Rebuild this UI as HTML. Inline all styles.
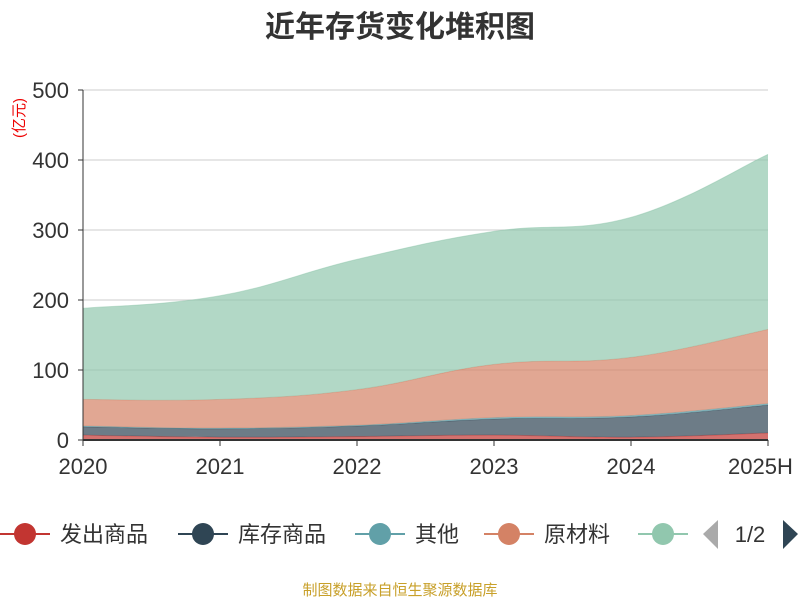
<!DOCTYPE html>
<html><head><meta charset="utf-8"><style>
body{margin:0;background:#fff;font-family:"Liberation Sans","Noto Sans CJK SC",sans-serif}
</style></head><body>
<svg id="c" width="800" height="600" xmlns="http://www.w3.org/2000/svg">
<text x="400" y="37" text-anchor="middle" font-size="30" font-weight="bold" fill="#333" font-family="Liberation Sans,Noto Sans CJK SC,sans-serif">近年存货变化堆积图</text>
<text transform="translate(24,118) rotate(-90)" text-anchor="middle" font-size="15" fill="#e00" font-family="Liberation Sans,Noto Sans CJK SC,sans-serif">(亿元)</text>
<g id="grid"></g><g id="areas"></g><g id="axes"></g><g id="legend"></g>
<text x="400" y="595" text-anchor="middle" font-size="15" fill="#c8a02a" font-family="Liberation Sans,Noto Sans CJK SC,sans-serif">制图数据来自恒生聚源数据库</text>
</svg>
<script>
const categories=["2020","2021","2022","2023","2024","2025H"];
const seriesNames=["发出商品","库存商品","其他","原材料","在产品"];
const s1=[7,4,5,7,4,10];
const s2=[12,12,15,23,29,40];
const s3=[1,1,1,2,2,2];
const s4=[38,41,51,76,83,106];
const s5=[130,148,186,190,200,250];
const yTicks=[0,100,200,300,400,500];
const colors=["#c23531","#2f4554","#61a0a8","#d48265","#91c7ae"];
const NS="http://www.w3.org/2000/svg";
const x0=83,x1=768,yb=440,yt=90,ymax=500;
const X=i=>x0+(x1-x0)*i/(categories.length-1);
const Y=v=>yb-(yb-yt)*v/ymax;
function mk(t,a,p){const e=document.createElementNS(NS,t);for(const k in a)e.setAttribute(k,a[k]);p.appendChild(e);return e;}
const F="Liberation Sans,Noto Sans CJK SC,sans-serif";
const grid=document.getElementById('grid'),axes=document.getElementById('axes'),areas=document.getElementById('areas'),leg=document.getElementById('legend');
yTicks.forEach(t=>{
 if(t>0){const l=mk('line',{x1:x0,x2:x1,y1:Y(t),y2:Y(t),stroke:'#ccc','stroke-width':1},grid);
 }
 const tx=mk('text',{x:x0-14,y:Y(t)+8,'text-anchor':'end','font-size':22,fill:'#333','font-family':F},axes);tx.textContent=t;
 
 const tk=mk('line',{x1:x0-5,x2:x0,y1:Y(t),y2:Y(t),stroke:'#333'},axes);
 
});
const series=[s1,s2,s3,s4,s5];
let base=categories.map(()=>0);
function smooth(pts){let d='';for(let i=0;i<pts.length;i++){const p=pts[i];if(i===0){d+='L'+p[0]+','+p[1];continue;}
 const a=pts[i-1],b=p,pm=pts[i-2]||a,pn=pts[i+1]||b,s=0.2;
 const c1=[a[0]+(b[0]-pm[0])*s,a[1]+(b[1]-pm[1])*s],c2=[b[0]-(pn[0]-a[0])*s,b[1]-(pn[1]-a[1])*s];
 d+='C'+c1+' '+c2+' '+b;}return d;}
series.forEach((s,k)=>{
 const top=s.map((v,i)=>base[i]+v);
 const tp=top.map((v,i)=>[X(i),Y(v)]),bp=base.map((v,i)=>[X(i),Y(v)]).reverse();
 const d='M'+tp[0]+smooth(tp).slice(1).replace(/^[^C]*/,'')+'L'+bp[0]+smooth(bp).replace(/^L[^C]*/,'')+'Z';
 const p=mk('path',{d:d,fill:colors[k],'fill-opacity':0.7},areas);
 
 const l=mk('path',{d:'M'+tp[0]+smooth(tp).replace(/^L[^C]*/,''),fill:'none',stroke:colors[k],'stroke-width':1,'stroke-opacity':0.5},areas);
 
 base=top;
});
const ax=mk('line',{x1:x0,x2:x1,y1:yb,y2:yb,stroke:'#333','stroke-width':2},axes);

const ay=mk('line',{x1:x0,x2:x0,y1:yt,y2:yb,stroke:'#333','stroke-width':1},axes);

categories.forEach((c,i)=>{
 const tk=mk('line',{x1:X(i),x2:X(i),y1:yb,y2:yb+6,stroke:'#333'},axes);
 
 const t=mk('text',{x:i===categories.length-1?X(i)-40:X(i),y:yb+34,'text-anchor':i===categories.length-1?'start':'middle','font-size':22,fill:'#333','font-family':F},axes);t.textContent=c;
 
});
const lx=[0,178,355,484,638];
seriesNames.slice(0,5).forEach((n,k)=>{
 const g=mk('g',{},leg);
 mk('line',{x1:lx[k],x2:lx[k]+50,y1:534,y2:534,stroke:colors[k],'stroke-width':2},g);
 mk('circle',{cx:lx[k]+25,cy:534,r:11,fill:colors[k]},g);
 if(k<4){const t=mk('text',{x:lx[k]+60,y:542,'font-size':22,fill:'#333','font-family':F},g);t.textContent=n;}
});
const pp=mk('path',{d:'M718,520 L703,534 L718,549 Z',fill:'#aaa'},leg);
const pt=mk('text',{x:750,y:542,'text-anchor':'middle','font-size':22,fill:'#333','font-family':F},leg);pt.textContent='1/2';

const pn=mk('path',{d:'M783,520 L798,534 L783,549 Z',fill:'#2f4554'},leg);
</script>
</body></html>
